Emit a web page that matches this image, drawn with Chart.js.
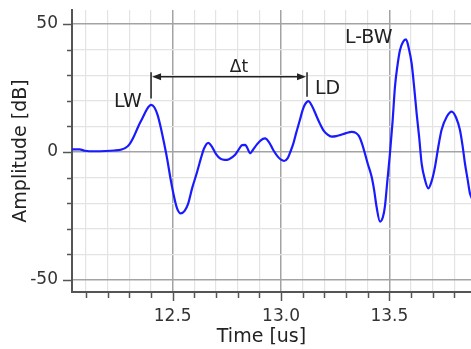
<!DOCTYPE html>
<html><head><meta charset="utf-8">
<script src="https://cdn.jsdelivr.net/npm/chart.js@4/dist/chart.umd.min.js"></script>
<style>html,body{margin:0;padding:0;background:#fff;overflow:hidden}#wrap{width:471px;height:349px}</style>
</head><body><div id="wrap"><canvas id="c" width="471" height="349"></canvas></div>
<script>
const timeUs = [12.035,12.07,12.095,12.14,12.19,12.23,12.26,12.28,12.30,12.32,12.34,12.36,12.38,12.40,12.415,12.43,12.445,12.46,12.475,12.49,12.505,12.52,12.537,12.555,12.57,12.59,12.61,12.63,12.645,12.664,12.68,12.70,12.72,12.74,12.76,12.787,12.805,12.82,12.835,12.845,12.857,12.87,12.888,12.905,12.926,12.945,12.964,12.985,13.0,13.014,13.03,13.045,13.057,13.07,13.087,13.10,13.11,13.126,13.143,13.165,13.18,13.195,13.215,13.234,13.255,13.272,13.30,13.326,13.345,13.36,13.375,13.387,13.40,13.418,13.43,13.441,13.457,13.47,13.48,13.49,13.503,13.515,13.526,13.537,13.549,13.563,13.577,13.59,13.603,13.615,13.626,13.638,13.649,13.665,13.68,13.695,13.711,13.725,13.741,13.765,13.788,13.808,13.826,13.838,13.849,13.862,13.872,13.886];
const amplitudeDb = [1.0,1.0,0.5,0.3,0.4,0.6,0.9,1.5,3.0,6.0,9.8,13.2,16.6,18.4,17.5,14.5,9.5,3.5,-3,-10.5,-17,-22,-24,-23,-20.5,-14,-8.5,-2.5,1.5,3.6,2.2,-0.8,-2.6,-3.1,-2.8,-1.2,1.0,2.7,2.8,1.5,-0.5,0.8,2.9,4.5,5.3,3.8,0.8,-1.8,-3.0,-3.5,-2.5,0.5,3.4,7.5,12.5,16.5,18.5,19.9,18.0,13.8,11.0,8.6,6.8,6.0,6.2,6.6,7.4,7.9,7.5,6.2,3.0,-0.5,-4.5,-9.6,-15,-21.4,-27.2,-25.5,-21,-12,-0.4,12,25.5,33.5,39.8,43.0,44.0,40.5,34.6,25,15.1,5.5,-4.4,-11,-14.2,-11.5,-5.7,1.5,8.6,13.8,15.8,13.5,8.6,2.5,-4.4,-11,-16.1,-19];
const xTickValues = [12.1,12.2,12.3,12.4,12.5,12.6,12.7,12.8,12.9,13.0,13.1,13.2,13.3,13.4,13.5,13.6,13.7,13.8];
const xMajorTicks = [12.5,13.0,13.5];
const yTickValues = [-50,-40,-30,-20,-10,0,10,20,30,40,50];
const yMajorTicks = [-50,0,50];
const markerTimes = [12.4,13.12];      // LW, LD
const peakLabels = ['LW','LD','L-BW'];
const peakLabelX = [12.357,13.157,13.295];
const peakLabelY = [19.6,24.6,44.4];
const deltaLabel = 'Δt';
const xTitle = 'Time [us]';
const yTitle = 'Amplitude [dB]';

const FONT = '"DejaVu Sans", sans-serif';
const isMajor = (v, list) => list.some(m => Math.abs(m - v) < 1e-6);

const deco = {
  id: 'deco',
  afterDraw(chart) {
    const {ctx, chartArea: a} = chart;
    const x = chart.scales.x, y = chart.scales.y;
    ctx.save();
    // tick marks
    ctx.strokeStyle = '#555'; ctx.lineWidth = 1.5;
    xTickValues.forEach(v => {
      const px = Math.round(x.getPixelForValue(v)) + 0.5;
      const len = isMajor(v, xMajorTicks) ? 9 : 6;
      ctx.beginPath(); ctx.moveTo(px, a.bottom); ctx.lineTo(px, a.bottom + len); ctx.stroke();
    });
    yTickValues.forEach(v => {
      const py = Math.round(y.getPixelForValue(v)) + 0.5;
      const len = isMajor(v, yMajorTicks) ? 9 : 5;
      ctx.beginPath(); ctx.moveTo(a.left, py); ctx.lineTo(a.left - len, py); ctx.stroke();
    });
    // x title
    ctx.fillStyle = '#222'; ctx.font = '19px ' + FONT;
    ctx.textAlign = 'center'; ctx.textBaseline = 'middle';
    ctx.fillText(xTitle, (a.left + a.right) / 2 - 10, 337);

    // delta-t annotation
    const x1 = x.getPixelForValue(markerTimes[0]), x2 = x.getPixelForValue(markerTimes[1]);
    const ya = y.getPixelForValue(29.4);
    ctx.strokeStyle = '#222'; ctx.fillStyle = '#222'; ctx.lineWidth = 1.5;
    ctx.beginPath();
    ctx.moveTo(x1, y.getPixelForValue(31.2)); ctx.lineTo(x1, y.getPixelForValue(20.9));
    ctx.moveTo(x2, y.getPixelForValue(31.2)); ctx.lineTo(x2, y.getPixelForValue(21.6));
    ctx.moveTo(x1 + 4, ya); ctx.lineTo(x2 - 4, ya);
    ctx.stroke();
    ctx.beginPath();
    ctx.moveTo(x1 + 1, ya); ctx.lineTo(x1 + 10, ya - 3.5); ctx.lineTo(x1 + 10, ya + 3.5); ctx.closePath();
    ctx.moveTo(x2 - 1, ya); ctx.lineTo(x2 - 10, ya - 3.5); ctx.lineTo(x2 - 10, ya + 3.5); ctx.closePath();
    ctx.fill();
    ctx.font = '17px ' + FONT; ctx.textAlign = 'center';
    ctx.fillText(deltaLabel, x.getPixelForValue(12.806), y.getPixelForValue(32.9));
    // peak labels
    ctx.font = '19px ' + FONT;
    peakLabels.forEach((t, i) => {
      ctx.textAlign = i === 0 ? 'right' : 'left';
      ctx.fillText(t, x.getPixelForValue(peakLabelX[i]), y.getPixelForValue(peakLabelY[i]));
    });
    ctx.restore();
  }
};

new Chart(document.getElementById('c'), {
  type: 'line',
  data: {
    datasets: [{
      data: timeUs.map((t, i) => ({x: t, y: amplitudeDb[i]})),
      borderColor: '#1a1aff',
      borderWidth: 2.2,
      pointRadius: 0,
      cubicInterpolationMode: 'monotone',
      fill: false
    }]
  },
  options: {
    responsive: false,
    devicePixelRatio: 1,
    animation: false,
    layout: {padding: {top: 10, right: 0, left: 0, bottom: 0}},
    plugins: {legend: {display: false}, tooltip: {enabled: false}},
    scales: {
      x: {
        type: 'linear', min: 12.035, max: 13.877,
        afterBuildTicks: s => { s.ticks = xTickValues.map(v => ({value: v})); },
        afterFit: s => { s.height = 57; s.paddingLeft = 0; s.paddingRight = 0; },
        grid: {
          drawTicks: false,
          color: c => isMajor(c.tick.value, xMajorTicks) ? '#a3a3a3' : '#e3e3e3',
          lineWidth: c => isMajor(c.tick.value, xMajorTicks) ? 1.5 : 1.2
        },
        border: {color: '#555', width: 2},
        ticks: {
          autoSkip: false, maxRotation: 0, padding: 14, color: '#333',
          font: {family: FONT, size: 17},
          callback: v => isMajor(v, xMajorTicks) ? v.toFixed(1) : ''
        }
      },
      y: {
        min: -54.7, max: 55.5,
        afterBuildTicks: s => { s.ticks = yTickValues.map(v => ({value: v})); },
        afterFit: s => { s.width = 72; s.paddingTop = 0; s.paddingBottom = 0; },
        grid: {
          drawTicks: false,
          color: c => isMajor(c.tick.value, yMajorTicks) ? '#a3a3a3' : '#e3e3e3',
          lineWidth: c => isMajor(c.tick.value, yMajorTicks) ? 1.5 : 1.2
        },
        border: {color: '#555', width: 2},
        title: {display: true, text: yTitle, color: '#222', font: {family: FONT, size: 19}, padding: {top: 10, bottom: 0}},
        ticks: {
          padding: 14, color: '#333',
          font: {family: FONT, size: 17},
          callback: v => isMajor(v, yMajorTicks) ? String(v) : ''
        }
      }
    }
  },
  plugins: [deco]
});
</script></body></html>
